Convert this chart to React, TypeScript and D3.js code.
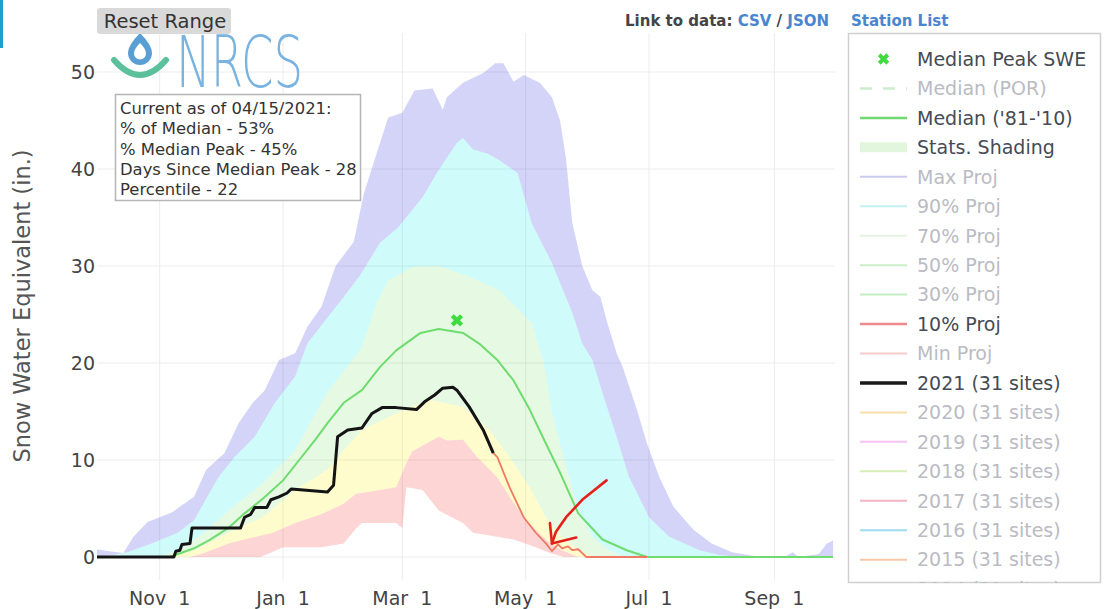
import React from 'react';
import * as d3 from 'd3';

type Pt = [string, number];

// ---- Statistical percentile curves (SWE, inches) ----
const maxProj: Pt[] = [
  ['2020-10-01', 0.8], ['2020-10-07', 0.6], ['2020-10-14', 0.4], ['2020-10-19', 2.1], ['2020-10-26', 3.6],
  ['2020-11-07', 4.6], ['2020-11-18', 6.2], ['2020-11-24', 9.0], ['2020-12-03', 10.7], ['2020-12-10', 13.8],
  ['2020-12-17', 15.9], ['2020-12-23', 17.2], ['2020-12-30', 20.3], ['2021-01-07', 21.0], ['2021-01-13', 23.7],
  ['2021-01-20', 25.8], ['2021-01-27', 30.0], ['2021-02-05', 32.5], ['2021-02-10', 37.5], ['2021-02-22', 45.3],
  ['2021-03-01', 45.8], ['2021-03-07', 48.1], ['2021-03-16', 48.3], ['2021-03-21', 46.1], ['2021-03-23', 47.4],
  ['2021-03-31', 48.9], ['2021-04-10', 49.9], ['2021-04-16', 50.9], ['2021-04-20', 50.9], ['2021-04-25', 49.0],
  ['2021-04-30', 49.7], ['2021-05-08', 48.9], ['2021-05-14', 47.4], ['2021-05-18', 45.0], ['2021-05-21', 41.0],
  ['2021-05-24', 34.5], ['2021-05-29', 30.0], ['2021-06-03', 27.5], ['2021-06-07', 26.8], ['2021-06-10', 24.4],
  ['2021-06-15', 21.0], ['2021-06-18', 19.6], ['2021-06-25', 15.2], ['2021-06-30', 11.7], ['2021-07-06', 8.3],
  ['2021-07-13', 5.2], ['2021-07-23', 2.8], ['2021-08-01', 1.4], ['2021-08-11', 0.5], ['2021-08-25', 0],
  ['2021-09-06', 0], ['2021-09-10', 0.5], ['2021-09-13', 0], ['2021-09-23', 0.3], ['2021-09-27', 1.4], ['2021-09-30', 1.7],
];

const p90: Pt[] = [
  ['2020-10-01', 0], ['2020-10-09', 0.2], ['2020-10-16', 0.5], ['2020-10-28', 1.4], ['2020-11-10', 2.5],
  ['2020-11-18', 3.8], ['2020-11-30', 8.2], ['2020-12-08', 10.3], ['2020-12-18', 12.4], ['2020-12-28', 15.9],
  ['2021-01-07', 18.6], ['2021-01-13', 22.0], ['2021-01-23', 24.7], ['2021-01-31', 26.8], ['2021-02-08', 29.0],
  ['2021-02-18', 32.4], ['2021-02-27', 34.0], ['2021-03-11', 37.1], ['2021-03-19', 39.9], ['2021-03-28', 42.7],
  ['2021-03-31', 43.2], ['2021-04-05', 42.0], ['2021-04-12', 41.6], ['2021-04-18', 40.9], ['2021-04-27', 39.6],
  ['2021-05-04', 34.4], ['2021-05-14', 30.3], ['2021-05-24', 25.2], ['2021-05-29', 22.0], ['2021-06-03', 20.3],
  ['2021-06-08', 16.9], ['2021-06-15', 12.4], ['2021-06-21', 8.3], ['2021-07-01', 4.1], ['2021-07-11', 2.1],
  ['2021-07-26', 0.7], ['2021-08-05', 0.2], ['2021-08-15', 0], ['2021-09-30', 0],
];

const p70: Pt[] = [
  ['2020-10-01', 0], ['2020-11-01', 0], ['2020-11-11', 0.8], ['2020-11-23', 2.5], ['2020-12-05', 4.8],
  ['2020-12-22', 7.6], ['2021-01-07', 11.0], ['2021-01-23', 17.0], ['2021-02-09', 21.6], ['2021-02-16', 26.0],
  ['2021-02-22', 28.5], ['2021-03-06', 29.9], ['2021-03-19', 30.0], ['2021-04-02', 29.0], ['2021-04-18', 27.5],
  ['2021-05-04', 24.1], ['2021-05-10', 20.0], ['2021-05-14', 15.0], ['2021-05-18', 11.7], ['2021-05-27', 4.8],
  ['2021-06-03', 2.1], ['2021-06-11', 0.7], ['2021-06-19', 0], ['2021-09-30', 0],
];

const p30: Pt[] = [
  ['2020-10-01', 0], ['2020-11-06', 0], ['2020-11-18', 0.7], ['2020-12-05', 2.5], ['2020-12-22', 4.1],
  ['2021-01-07', 6.9], ['2021-01-23', 9.0], ['2021-01-31', 11.0], ['2021-02-09', 13.1], ['2021-02-26', 14.8],
  ['2021-03-14', 16.2], ['2021-03-31', 15.5], ['2021-04-13', 13.1], ['2021-04-23', 10.3], ['2021-05-03', 7.2],
  ['2021-05-11', 4.1], ['2021-05-19', 2.1], ['2021-05-27', 0.7], ['2021-06-04', 0], ['2021-09-30', 0],
];

const p10: Pt[] = [
  ['2020-10-01', 0], ['2020-11-16', 0], ['2020-11-23', 0.4], ['2020-12-05', 1.4], ['2020-12-13', 1.8],
  ['2020-12-27', 2.5], ['2021-01-07', 3.5], ['2021-01-20', 4.4], ['2021-01-31', 5.5], ['2021-02-06', 6.5],
  ['2021-02-26', 7.2], ['2021-03-03', 9.7], ['2021-03-06', 10.9], ['2021-03-19', 12.4], ['2021-03-23', 12.0],
  ['2021-03-31', 12.1], ['2021-04-07', 10.3], ['2021-04-17', 8.2], ['2021-04-23', 6.2], ['2021-04-30', 4.1],
  ['2021-05-06', 2.8], ['2021-05-13', 1.4], ['2021-05-19', 0.7], ['2021-05-27', 0], ['2021-09-30', 0],
];

const minProj: Pt[] = [
  ['2020-10-01', 0], ['2020-12-21', 0], ['2021-01-01', 1.0], ['2021-01-20', 1.0], ['2021-01-31', 1.4],
  ['2021-02-06', 2.9], ['2021-02-09', 3.5], ['2021-02-26', 3.5], ['2021-03-01', 3.0], ['2021-03-03', 7.2],
  ['2021-03-11', 6.9], ['2021-03-19', 4.8], ['2021-03-31', 3.5], ['2021-04-05', 2.5], ['2021-04-17', 2.1],
  ['2021-04-25', 1.8], ['2021-05-06', 1.0], ['2021-05-13', 0.4], ['2021-05-20', 0], ['2021-09-30', 0],
];

// ---- Lines ----
const median8110: Pt[] = [
  ['2020-10-01', 0], ['2020-11-06', 0], ['2020-11-18', 0.9], ['2020-11-26', 1.8], ['2020-12-05', 3.0],
  ['2020-12-13', 4.5], ['2020-12-22', 6.0], ['2021-01-01', 7.9], ['2021-01-09', 10.0], ['2021-01-17', 12.1],
  ['2021-01-23', 13.8], ['2021-01-31', 15.9], ['2021-02-09', 17.2], ['2021-02-18', 19.6], ['2021-02-26', 21.3],
  ['2021-03-10', 23.1], ['2021-03-19', 23.5], ['2021-03-31', 23.1], ['2021-04-08', 22.0], ['2021-04-17', 20.3],
  ['2021-04-25', 18.2], ['2021-05-03', 15.2], ['2021-05-11', 11.7], ['2021-05-18', 8.7], ['2021-05-27', 4.5],
  ['2021-06-08', 1.8], ['2021-06-20', 0.7], ['2021-06-30', 0], ['2021-09-30', 0],
];

const wy2021: Pt[] = [
  ['2020-10-01', 0], ['2020-11-08', 0], ['2020-11-09', 0.6], ['2020-11-11', 0.7], ['2020-11-12', 1.3],
  ['2020-11-16', 1.4], ['2020-11-17', 3.0], ['2020-12-11', 3.0], ['2020-12-13', 4.1], ['2020-12-16', 4.4],
  ['2020-12-18', 5.1], ['2020-12-24', 5.1], ['2020-12-26', 5.9], ['2020-12-30', 6.2], ['2021-01-03', 6.6],
  ['2021-01-05', 7.0], ['2021-01-23', 6.7], ['2021-01-26', 7.4], ['2021-01-28', 12.4], ['2021-02-02', 13.1],
  ['2021-02-09', 13.3], ['2021-02-14', 14.8], ['2021-02-19', 15.4], ['2021-02-26', 15.4], ['2021-03-08', 15.2],
  ['2021-03-12', 16.0], ['2021-03-17', 16.7], ['2021-03-21', 17.4], ['2021-03-26', 17.5], ['2021-03-28', 17.2],
  ['2021-04-03', 15.5], ['2021-04-10', 13.1], ['2021-04-15', 10.7],
];

const proj10: Pt[] = [
  ['2021-04-15', 10.7], ['2021-04-17', 10.3], ['2021-04-23', 7.2], ['2021-04-30', 4.1], ['2021-05-06', 2.5],
  ['2021-05-11', 1.4], ['2021-05-14', 0.6], ['2021-05-17', 1.3], ['2021-05-19', 0.9], ['2021-05-22', 1.1],
  ['2021-05-24', 0.7], ['2021-05-27', 0.8], ['2021-05-29', 0.4], ['2021-05-31', 0], ['2021-06-30', 0],
];

const medianPeak: Pt = ['2021-03-28', 24.4];

// hand-drawn red arrow annotation (data coordinates)
const arrowShaft: Pt[] = [['2021-06-10', 7.9], ['2021-05-29', 5.9], ['2021-05-21', 4.1], ['2021-05-16', 2.6], ['2021-05-14', 1.4]];
const arrowHead: Pt[] = [['2021-05-13', 3.5], ['2021-05-14', 1.4], ['2021-05-26', 2.0]];

// ---- Axes ----
const xTicks = ['2020-11-01', '2021-01-01', '2021-03-01', '2021-05-01', '2021-07-01', '2021-09-01'];
const yTicks = [0, 10, 20, 30, 40, 50];
const xDomain = ['2020-10-01', '2021-09-30'];
const yTitle = 'Snow Water Equivalent (in.)';

// ---- Legend ----
const legendLabels = [
  'Median Peak SWE', 'Median (POR)', "Median ('81-'10)", 'Stats. Shading', 'Max Proj', '90% Proj', '70% Proj',
  '50% Proj', '30% Proj', '10% Proj', 'Min Proj', '2021 (31 sites)', '2020 (31 sites)', '2019 (31 sites)',
  '2018 (31 sites)', '2017 (31 sites)', '2016 (31 sites)', '2015 (31 sites)', '2014 (31 sites)',
];
const legendKinds = ['marker', 'dash', 'line', 'band', 'line', 'line', 'line', 'line', 'line', 'line', 'line', 'line',
  'line', 'line', 'line', 'line', 'line', 'line', 'line'];
const legendColors = ['#3fdc3f', '#cdeccd', '#72d872', '#e2f6de', '#cbcbf0', '#c5f0f3', '#e4f3dc', '#c9efc9', '#c2eec2',
  '#f08a8a', '#f6cccc', '#1a1a1a', '#fadcaa', '#f6c2f2', '#d6efb6', '#f5b4c4', '#9fdcf0', '#f6c6a6', '#dddddd'];
const legendActive = [true, false, true, true, false, false, false, false, false, true, false, true,
  false, false, false, false, false, false, false];

const infoLines = [
  'Current as of 04/15/2021:',
  '% of Median - 53%',
  '% Median Peak - 45%',
  'Days Since Median Peak - 28',
  'Percentile - 22',
];

const FONT = "'DejaVu Sans', Verdana, sans-serif";

export default function App() {
  const parse = d3.timeParse('%Y-%m-%d');
  const pd = (s: string) => parse(s) as Date;
  const plotL = 97, plotR = 835, plotT = 33, plotB = 580;
  const x = d3.scaleTime().domain(xDomain.map(pd)).range([97, 833]);
  const y = d3.scaleLinear().domain([0, 50]).range([557, 72]);
  const toXY = (s: Pt[]) => s.map(([d, v]) => [x(pd(d)), y(v)] as [number, number]);
  const line = d3.line();
  const band = (up: Pt[], lo: Pt[]) => (line([...toXY(up), ...toXY(lo).reverse()]) || '') + 'Z';
  const fmt = d3.timeFormat('%b %-d');

  const bands = [
    { up: maxProj, lo: p90, fill: 'rgba(40,40,225,0.2)' },
    { up: p90, lo: p70, fill: 'rgba(0,235,235,0.19)' },
    { up: p70, lo: p30, fill: 'rgba(60,210,40,0.13)' },
    { up: p30, lo: p10, fill: 'rgba(250,240,0,0.2)' },
    { up: p10, lo: minProj, fill: 'rgba(245,30,30,0.19)' },
  ];

  const legX0 = 860, legX1 = 907, legTextX = 917, legY0 = 59, legStep = 29.45;
  const xMark = d3.symbol(d3.symbolCross, 95)();

  return (
    <svg width={1107} height={609} style={{ position: 'absolute', left: 0, top: 0, background: '#fff' }}
      fontFamily={FONT}>
      <defs>
        <clipPath id="legclip"><rect x={848} y={33} width={253} height={550} /></clipPath>
        <clipPath id="plotclip"><rect x={plotL} y={plotT} width={plotR - plotL} height={plotB - plotT} /></clipPath>
      </defs>
      <rect x={0} y={0} width={1107} height={609} fill="#fff" />
      <rect x={0} y={0} width={3} height={48} fill="#1aa3c8" />

      {/* grid */}
      {yTicks.map((t) => (
        <line key={'gy' + t} x1={plotL} x2={plotR} y1={y(t)} y2={y(t)} stroke="#ececec" strokeWidth={1} />
      ))}
      {xTicks.map((t) => (
        <line key={'gx' + t} x1={x(pd(t))} x2={x(pd(t))} y1={plotT} y2={plotB} stroke="#ececec" strokeWidth={1} />
      ))}

      <g clipPath="url(#plotclip)">
        {bands.map((b, i) => (
          <path key={'b' + i} d={band(b.up, b.lo)} fill={b.fill} stroke="none" />
        ))}
        <path d={line(toXY(median8110)) || ''} fill="none" stroke="#6edc6e" strokeWidth={2} strokeLinejoin="round" />
        <path d={line(toXY(proj10)) || ''} fill="none" stroke="#ee7a64" strokeWidth={1.8} strokeLinejoin="round" />
        <path d={line(toXY(wy2021)) || ''} fill="none" stroke="#141414" strokeWidth={3} strokeLinejoin="round" />
        <path d={xMark || ''} transform={`translate(${x(pd(medianPeak[0]))},${y(medianPeak[1])}) rotate(45)`} fill="#3fdc3f" />
        <path d={line(toXY(arrowShaft)) || ''} fill="none" stroke="#e4201c" strokeWidth={2.6} strokeLinecap="round" strokeLinejoin="round" />
        <path d={line(toXY(arrowHead)) || ''} fill="none" stroke="#e4201c" strokeWidth={2.6} strokeLinecap="round" strokeLinejoin="round" />
      </g>

      {/* y tick labels */}
      {yTicks.map((t) => (
        <text key={'ty' + t} x={95} y={y(t)} dy="0.36em" textAnchor="end" fontSize={19} fill="#444">{t}</text>
      ))}
      {/* x tick labels */}
      {xTicks.map((t) => (
        <text key={'tx' + t} x={x(pd(t))} y={605} textAnchor="middle" fontSize={19} fill="#444"
          xmlSpace="preserve" style={{ whiteSpace: 'pre' }}>{fmt(pd(t)).replace(' ', '  ')}</text>
      ))}
      {/* y title */}
      <text transform="translate(30,306) rotate(-90)" textAnchor="middle" fontSize={22.5} fill="#555">{yTitle}</text>

      {/* NRCS logo */}
      <path d="M140,33 Q128,45 128,53 A12,12 0 0 0 152,53 Q152,45 140,33 Z" fill="#5a9fd4" />
      <path d="M140,43 Q134,49 134,53.5 A6,6 0 0 0 146,53.5 Q146,49 140,43 Z" fill="#fff" />
      <path d="M114,60 Q140,90 166,60" fill="none" stroke="#5dc09c" strokeWidth={6} strokeLinecap="round" />
      <text x={176} y={87} fontSize={71} fontWeight={200} fill="#7ab3df" textLength={127} lengthAdjust="spacingAndGlyphs"
        fontFamily="'DejaVu Sans', sans-serif">NRCS</text>

      {/* info box */}
      <rect x={115.5} y={94.5} width={245} height={106} fill="#fff" stroke="#b5b5b5" strokeWidth={1.5} />
      {infoLines.map((s, i) => (
        <text key={'info' + i} x={120} y={114 + i * 20.3} fontSize={16.4} fill="#333">{s}</text>
      ))}

      {/* Reset Range button */}
      <rect x={97} y={8} width={134} height={26} rx={3} fill="#d9d9d9" />
      <text x={165} y={27.5} textAnchor="middle" fontSize={19.5} fill="#333">Reset Range</text>

      {/* data links */}
      <text x={625} y={26} fontSize={15} fontWeight="bold" xmlSpace="preserve" style={{ whiteSpace: 'pre' }}>
        <tspan fill="#444">Link to data: </tspan>
        <tspan fill="#4a86d0">CSV</tspan>
        <tspan fill="#444"> / </tspan>
        <tspan fill="#4a86d0">JSON</tspan>
      </text>
      <text x={851} y={26} fontSize={15} fontWeight="bold" fill="#4a86d0">Station List</text>

      {/* legend */}
      <rect x={848.5} y={33.5} width={252} height={549} fill="#fff" stroke="#cfcfcf" strokeWidth={1.5} />
      <g clipPath="url(#legclip)">
        {legendLabels.map((lab, i) => {
          const cy = legY0 + i * legStep;
          const kind = legendKinds[i];
          const col = legendColors[i];
          let sym: React.ReactNode;
          if (kind === 'marker') {
            sym = <path d={d3.symbol(d3.symbolCross, 80)() || ''} transform={`translate(${(legX0 + legX1) / 2},${cy}) rotate(45)`} fill={col} />;
          } else if (kind === 'dash') {
            sym = <line x1={legX0} x2={legX1} y1={cy} y2={cy} stroke={col} strokeWidth={2.5} strokeDasharray="12,11" />;
          } else if (kind === 'band') {
            sym = <line x1={legX0} x2={legX1} y1={cy} y2={cy} stroke={col} strokeWidth={10} />;
          } else {
            const w = i === 11 ? 3.5 : i === 2 || i === 9 ? 2.5 : 2;
            sym = <line x1={legX0} x2={legX1} y1={cy} y2={cy} stroke={col} strokeWidth={w} />;
          }
          return (
            <g key={'leg' + i}>
              {sym}
              <text x={legTextX} y={cy} dy="0.36em" fontSize={19} fill={legendActive[i] ? '#454b55' : '#babbc3'}>{lab}</text>
            </g>
          );
        })}
      </g>
    </svg>
  );
}
